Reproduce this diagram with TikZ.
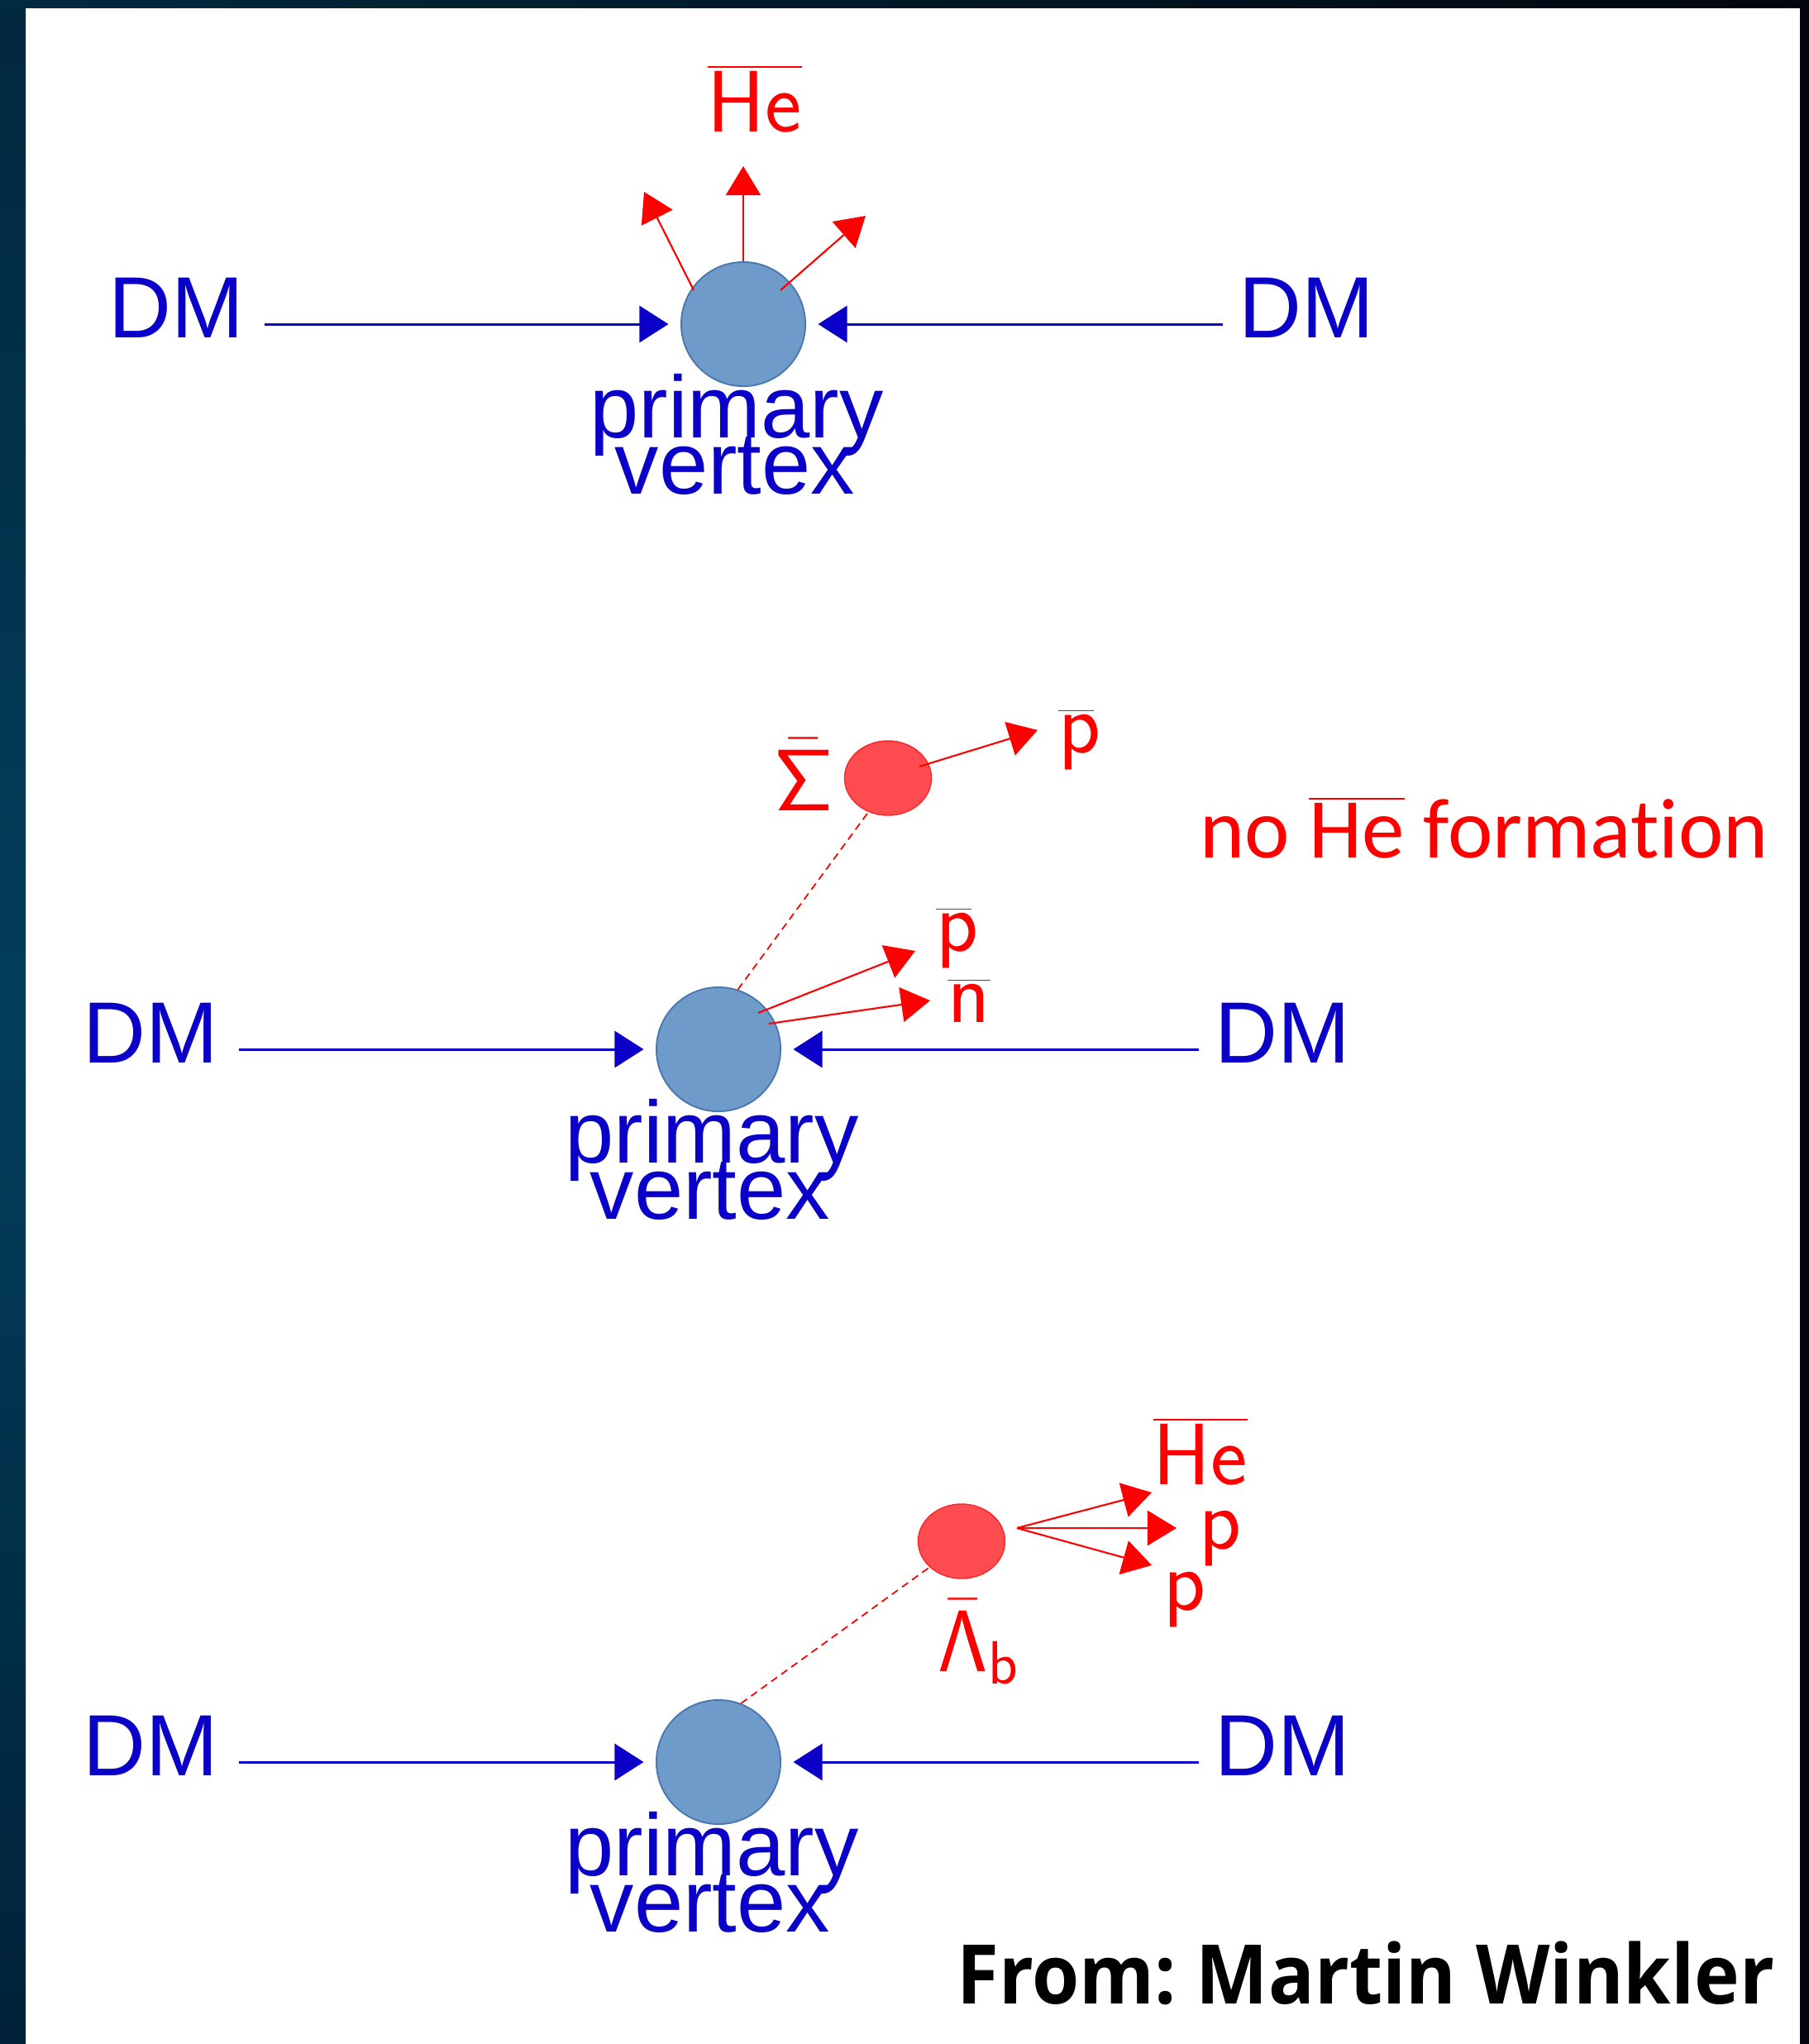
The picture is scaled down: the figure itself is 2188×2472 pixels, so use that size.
\RequirePackage{fix-cm}
\documentclass[tikz,border=0pt]{standalone}
\usepackage[no-math]{fontspec}
\usetikzlibrary{arrows.meta,shapes.geometric,calc}
\newfontfamily\arialf{Liberation Sans}
\newfontfamily\calf[Ligatures=NoCommon]{Carlito}
\newfontfamily\openf[FakeStretch=0.93]{Open Sans}
\definecolor{dmblue}{RGB}{10,0,200}
\definecolor{vfill}{RGB}{111,155,203}
\definecolor{vdraw}{RGB}{75,120,175}
\definecolor{rfill}{RGB}{255,76,80}
\definecolor{rdraw}{RGB}{250,40,40}
\definecolor{lstop}{RGB}{2,40,62}
\definecolor{lsmid}{RGB}{2,62,92}
\definecolor{lsbot}{RGB}{1,34,56}
\definecolor{tsleft}{RGB}{0,42,64}
\definecolor{tsright}{RGB}{1,6,13}
\newcommand{\pbar}{\overline{\mathsf{p}\mkern-1.5mu}\mkern1.5mu}
\newcommand{\nbar}{\overline{\mathsf{n}}}
\tikzset{
  vtx/.style={circle, fill=vfill, draw=vdraw, line width=0.55pt, minimum size=1.5cm, inner sep=0pt},
  rball/.style={ellipse, fill=rfill, draw=rdraw, line width=0.4pt, minimum width=1.05cm, minimum height=0.9cm, inner sep=0pt},
  dmarrow/.style={draw=dmblue, line width=0.85pt, -{Triangle[length=0.35cm,width=0.44cm]}, shorten >=0.145cm},
  rarrow/.style={draw=red, line width=0.6pt, -{Triangle[length=0.35cm,width=0.42cm]}},
  rdash/.style={draw=red, line width=0.5pt, dash pattern=on 0.09cm off 0.06cm},
  dmtext/.style={text=dmblue, font=\arialf\fontsize{29.9}{36}\selectfont, inner sep=0pt, anchor=base},
  pvtext/.style={text=dmblue, font=\arialf\fontsize{30.3}{36}\selectfont, inner sep=0pt, anchor=base},
  rlabel/.style={text=red, font=\fontsize{30}{36}\selectfont, inner sep=0pt, anchor=base},
}
\begin{document}
\begin{tikzpicture}[x=0.01cm,y=-0.01cm]
\useasboundingbox (0,0) rectangle (2188,2472);
% background frame
\fill[white] (0,0) rectangle (2188,2472);
\shade[top color=lstop, bottom color=lsbot, middle color=lsmid] (0,0) rectangle (31,2472);
\shade[left color=tsleft, right color=tsright] (0,0) rectangle (2188,9);
\fill[tsright] (2177,0) rectangle (2188,2472);

% ---------------- panel 1 ----------------
\node[vtx] (v1) at (899,392) {};
\node[dmtext] (dl1) at (213,408) {DM};
\node[dmtext] (dr1) at (1580,408) {DM};
\node[pvtext] (pa1) at (891,529) {primary};
\node[pvtext] (pb1) at (889,597) {vertex};
\draw[dmarrow] (dl1.base east) ++(25,-16) -- (v1);
\draw[dmarrow] (dr1.base west) ++(-19,-16) -- (v1);
\node[rlabel] (he1) at (913,159) {$\overline{\mathsf{He}}$};
\coordinate (t1a) at (779,232);
\coordinate (t1b) at (899,201);
\coordinate (t1c) at (1047,261);
\draw[rarrow] ($(v1)+(-60,-41)$) -- (t1a);
\draw[rarrow] (v1.north) -- (t1b);
\draw[rarrow] ($(v1)+(45,-41)$) -- (t1c);

% ---------------- panel 2 ----------------
\node[vtx] (v2) at (869,1269) {};
\node[dmtext] (dl2) at (182,1285) {DM};
\node[dmtext] (dr2) at (1551,1285) {DM};
\node[pvtext] (pa2) at (861,1406) {primary};
\node[pvtext] (pb2) at (859,1474) {vertex};
\draw[dmarrow] (dl2.base east) ++(25,-16) -- (v2);
\draw[dmarrow] (dr2.base west) ++(-19,-16) -- (v2);
\node[rball] (s2) at (1074,941) {};
\node[rlabel] (sig) at (972,980) {$\bar{\mathsf{\Sigma}}$};
\node[rlabel] (pb2a) at (1306,910) {$\pbar$};
\node[rlabel] (pb2b) at (1158,1150) {$\pbar$};
\node[rlabel] (nb2) at (1172,1236) {$\nbar$};
\coordinate (t2a) at (1255,883);
\coordinate (t2b) at (1107,1150);
\coordinate (t2c) at (1125,1210);
\draw[rdash] (v2.72) -- (s2.240);
\draw[rarrow] ($(s2)+(38,-14)$) -- (t2a);
\draw[rarrow] ($(v2)+(48,-44)$) -- (t2b);
\draw[rarrow] ($(v2)+(61,-31)$) -- (t2c);
\node[text=red, font=\calf\fontsize{29.3}{36}\selectfont, inner sep=0pt, anchor=base] (nohe) at (1795,1037) {no $\overline{\hbox{He}}$ formation};

% ---------------- panel 3 ----------------
\node[vtx] (v3) at (869,2131) {};
\node[dmtext] (dl3) at (182,2147) {DM};
\node[dmtext] (dr3) at (1551,2147) {DM};
\node[pvtext] (pa3) at (861,2268) {primary};
\node[pvtext] (pb3) at (859,2336) {vertex};
\draw[dmarrow] (dl3.base east) ++(25,-16) -- (v3);
\draw[dmarrow] (dr3.base west) ++(-19,-16) -- (v3);
\node[rball] (l3) at (1163,1864) {};
\node[rlabel, anchor=base west] (lam) at (1134,2021) {$\bar{\mathsf{\Lambda}}_{\mathsf{b}}$};
\node[rlabel] (he3) at (1452,1795) {$\overline{\mathsf{He}}$};
\node[rlabel] (p3a) at (1476,1873) {$\mathsf{p}$};
\node[rlabel] (p3b) at (1433,1947) {$\mathsf{p}$};
\coordinate (t3a) at (1393,1805);
\coordinate (t3b) at (1423,1848);
\coordinate (t3c) at (1393,1893);
\draw[rdash] (v3.69) -- (l3.219);
\draw[rarrow] ($(l3)+(67,-16)$) -- (t3a);
\draw[rarrow] ($(l3)+(67,-16)$) -- (t3b);
\draw[rarrow] ($(l3)+(67,-16)$) -- (t3c);

% credit
\node[font=\openf\bfseries\fontsize{28.3}{34}\selectfont\frenchspacing, text=black, inner sep=0pt, anchor=base east] (credit) at (2147,2423) {From: Martin Winkler};
\end{tikzpicture}
\end{document}
